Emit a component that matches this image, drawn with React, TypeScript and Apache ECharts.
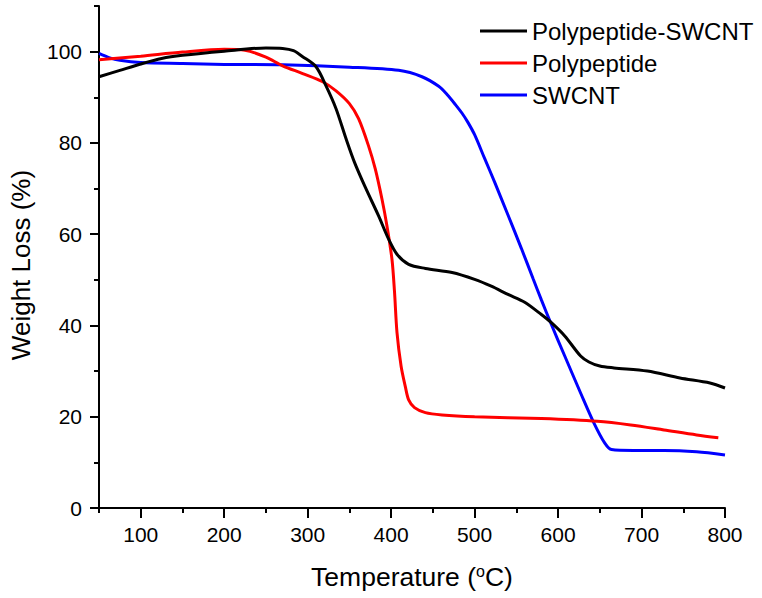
import React, { useEffect, useRef } from "react";
import * as echarts from "echarts";

const seriesNames = ["Polypeptide-SWCNT", "Polypeptide", "SWCNT"];
const seriesColors = ["#000000", "#ff0000", "#0000ff"];

const compositeData: [number, number][] = [
  [50, 94.5], [75, 95.9], [100, 97.3], [125, 98.5], [150, 99.2], [200, 100.1],
  [250, 100.8], [270, 100.7], [283, 100.2], [294, 98.9], [310, 96.7], [322, 92.5],
  [334, 87.5], [346, 80.9], [356, 75.8], [369, 70.3], [385, 64.0], [397, 58.9],
  [407, 55.6], [421, 53.4], [441, 52.5], [473, 51.6], [500, 50.1], [520, 48.6],
  [540, 46.8], [560, 45.1], [580, 42.4], [592, 40.6], [608, 37.7], [627, 33.3],
  [637, 32.0], [650, 31.1], [667, 30.7], [707, 30.0], [746, 28.5], [782, 27.4],
  [800, 26.3],
];

const polypeptideData: [number, number][] = [
  [50, 98.2], [100, 99.0], [150, 99.9], [200, 100.5], [225, 100.3], [250, 98.8],
  [270, 96.9], [294, 95.2], [318, 93.4], [334, 91.4], [350, 88.6], [361, 85.3],
  [373, 79.3], [381, 74.3], [389, 67.7], [395, 61.8], [401, 54.5], [404, 47.5],
  [407, 38.5], [412, 31.0], [417, 26.6], [421, 23.7], [428, 22.0], [441, 20.9],
  [461, 20.4], [500, 20.0], [580, 19.6], [647, 19.0], [687, 18.2], [727, 17.1],
  [766, 16.0], [792, 15.4],
];

const swcntData: [number, number][] = [
  [50, 99.6], [62, 98.7], [75, 98.1], [100, 97.6], [150, 97.4], [200, 97.2],
  [270, 97.1], [350, 96.6], [409, 95.9], [437, 94.5], [457, 92.4], [467, 90.6],
  [477, 88.4], [485, 86.5], [492, 84.5], [500, 81.8], [512, 76.6], [524, 71.4],
  [540, 64.2], [556, 56.9], [570, 50.3], [580, 45.6], [592, 40.2], [608, 33.3],
  [627, 25.2], [643, 18.6], [656, 14.2], [664, 12.8], [690, 12.6], [727, 12.6],
  [766, 12.3], [800, 11.6],
];

const xMajorTicks = [100, 200, 300, 400, 500, 600, 700, 800];
const xMinorTicks = [50, 150, 250, 350, 450, 550, 650, 750];
const yMajorTicks = [0, 20, 40, 60, 80, 100];
const yMinorTicks = [10, 30, 50, 70, 90, 110];

const FONT = "'Liberation Sans', Arial, Helvetica, sans-serif";

export default function App() {
  const ref = useRef<HTMLDivElement>(null);

  useEffect(() => {
    if (!ref.current) return;
    const chart = echarts.init(ref.current, undefined, { renderer: "svg" });
    const allData = [compositeData, polypeptideData, swcntData];

    const axisLineStyle = { color: "#000", width: 2 };

    const tickAxis = (min: number, max: number, pos: string, values: number[], len: number) => ({
      type: "value",
      min,
      max,
      position: pos,
      axisLine: { show: false, onZero: false },
      axisTick: { show: true, customValues: values, length: len, lineStyle: axisLineStyle },
      axisLabel: { show: false },
      splitLine: { show: false },
    });

    chart.setOption({
      animation: false,
      backgroundColor: "#ffffff",
      textStyle: { fontFamily: FONT },
      grid: { left: 94, right: 37, top: 6, bottom: 90, containLabel: false },
      legend: {
        orient: "vertical",
        left: 480,
        top: 19,
        padding: 0,
        itemWidth: 47,
        itemHeight: 14,
        itemGap: 8,
        data: seriesNames.map((n, i) => ({
          name: n,
          icon: "path://M0,6 L47,6 L47,9 L0,9 Z",
          itemStyle: { color: seriesColors[i] },
        })),
        textStyle: { fontSize: 24, color: "#000", fontFamily: FONT },
      },
      xAxis: [
        {
          type: "value",
          min: 50,
          max: 800,
          position: "bottom",
          axisLine: { show: true, onZero: false, lineStyle: axisLineStyle },
          axisTick: { show: false },
          axisLabel: {
            customValues: xMajorTicks,
            fontSize: 21,
            color: "#000",
            margin: 16,
            fontFamily: FONT,
          },
          splitLine: { show: false },
          name: "Temperature ({sup|o}C)",
          nameLocation: "middle",
          nameGap: 55,
          nameTextStyle: {
            fontSize: 26.5,
            color: "#000",
            fontFamily: FONT,
            rich: {
              sup: { fontSize: 16, verticalAlign: "top", color: "#000", fontFamily: FONT },
            },
          },
        },
        tickAxis(50, 800, "bottom", xMinorTicks, 5),
        tickAxis(50, 800, "bottom", xMajorTicks, 10),
      ],
      yAxis: [
        {
          type: "value",
          min: 0,
          max: 110,
          position: "left",
          axisLine: { show: true, onZero: false, lineStyle: axisLineStyle },
          axisTick: { show: false },
          axisLabel: {
            customValues: yMajorTicks,
            fontSize: 21,
            color: "#000",
            margin: 17,
            fontFamily: FONT,
          },
          splitLine: { show: false },
          name: "Weight Loss (%)",
          nameLocation: "middle",
          nameGap: 65,
          nameTextStyle: { fontSize: 26, color: "#000", fontFamily: FONT, padding: [0, 16, 0, 0] },
        },
        tickAxis(0, 110, "left", yMinorTicks, 5),
        tickAxis(0, 110, "left", yMajorTicks, 9),
      ],
      series: seriesNames.map((name, i) => ({
        name,
        type: "line",
        xAxisIndex: 0,
        yAxisIndex: 0,
        data: allData[i],
        showSymbol: false,
        symbol: "none",
        smooth: 0.3,
        lineStyle: { color: seriesColors[i], width: 3 },
        itemStyle: { color: seriesColors[i] },
        z: 3 - i,
      })),
    });

    return () => chart.dispose();
  }, []);

  return (
    <div
      ref={ref}
      style={{ position: "fixed", left: 0, top: 0, width: 762, height: 598, background: "#fff" }}
    />
  );
}
